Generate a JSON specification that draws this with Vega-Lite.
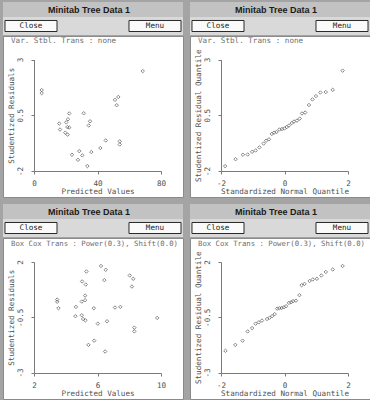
{
  "$schema": "https://vega.github.io/schema/vega-lite/v6.json",
  "padding": {"left": 2, "top": 2, "right": 0, "bottom": 0},
  "background": "#a4a4a4",
  "spacing": 6,
  "datasets": {
    "win": [{"t": "Minitab Tree Data 1"}],
    "btn": [{"b": "Close", "r": "r"}, {"b": "Menu", "r": "r"}],
    "tl": [
      {"x": 4.85, "y": 1.63}, {"x": 4.85, "y": 1.49}, {"x": 68.5, "y": 2.48}, {"x": 51.0, "y": 1.19},
      {"x": 53.1, "y": 1.32}, {"x": 52.1, "y": 0.95}, {"x": 31.3, "y": 0.59}, {"x": 22.2, "y": 0.58},
      {"x": 21.4, "y": 0.32}, {"x": 15.9, "y": 0.13}, {"x": 20.3, "y": 0.18}, {"x": 21.0, "y": -0.03},
      {"x": 22.2, "y": -0.05}, {"x": 16.4, "y": -0.14}, {"x": 19.7, "y": -0.28}, {"x": 21.2, "y": -0.37},
      {"x": 34.5, "y": 0.04}, {"x": 35.3, "y": 0.23}, {"x": 45.2, "y": -0.63}, {"x": 54.0, "y": -0.67},
      {"x": 54.0, "y": -0.81}, {"x": 41.8, "y": -0.97}, {"x": 36.1, "y": -1.15}, {"x": 28.5, "y": -1.11},
      {"x": 23.9, "y": -1.27}, {"x": 30.4, "y": -1.30}, {"x": 27.7, "y": -1.50}, {"x": 33.6, "y": -1.78}
    ],
    "tr": [
      {"x": -1.87, "y": -1.78}, {"x": -1.54, "y": -1.47}, {"x": -1.31, "y": -1.27}, {"x": -1.16, "y": -1.26},
      {"x": -1.02, "y": -1.14}, {"x": -0.91, "y": -1.08}, {"x": -0.79, "y": -0.94}, {"x": -0.66, "y": -0.77},
      {"x": -0.58, "y": -0.64}, {"x": -0.49, "y": -0.58}, {"x": -0.40, "y": -0.34}, {"x": -0.33, "y": -0.28},
      {"x": -0.25, "y": -0.25}, {"x": -0.16, "y": -0.14}, {"x": -0.08, "y": -0.12}, {"x": 0.00, "y": -0.09},
      {"x": 0.07, "y": -0.03}, {"x": 0.14, "y": 0.04}, {"x": 0.23, "y": 0.15}, {"x": 0.30, "y": 0.22},
      {"x": 0.39, "y": 0.26}, {"x": 0.48, "y": 0.35}, {"x": 0.55, "y": 0.58}, {"x": 0.65, "y": 0.62},
      {"x": 0.77, "y": 0.96}, {"x": 0.88, "y": 1.21}, {"x": 0.99, "y": 1.36}, {"x": 1.13, "y": 1.52},
      {"x": 1.30, "y": 1.54}, {"x": 1.52, "y": 1.64}, {"x": 1.83, "y": 2.50}
    ],
    "bl": [
      {"x": 6.22, "y": 1.82}, {"x": 6.52, "y": 1.65}, {"x": 5.30, "y": 1.57}, {"x": 8.03, "y": 1.39},
      {"x": 8.25, "y": 1.24}, {"x": 5.03, "y": 1.12}, {"x": 6.43, "y": 1.18}, {"x": 5.26, "y": 0.98},
      {"x": 8.17, "y": 0.89}, {"x": 5.22, "y": 0.48}, {"x": 3.46, "y": 0.30}, {"x": 3.46, "y": 0.20},
      {"x": 3.54, "y": -0.09}, {"x": 4.64, "y": -0.03}, {"x": 5.01, "y": 0.21}, {"x": 5.22, "y": 0.27},
      {"x": 5.77, "y": -0.09}, {"x": 7.10, "y": -0.06}, {"x": 7.44, "y": -0.03}, {"x": 4.61, "y": -0.45},
      {"x": 5.01, "y": -0.41}, {"x": 5.09, "y": -0.58}, {"x": 5.24, "y": -0.64}, {"x": 6.02, "y": -0.79},
      {"x": 6.60, "y": -0.68}, {"x": 9.76, "y": -0.53}, {"x": 8.32, "y": -0.97}, {"x": 8.32, "y": -1.14},
      {"x": 5.79, "y": -1.56}, {"x": 5.43, "y": -1.75}, {"x": 6.48, "y": -2.05}
    ],
    "br": [
      {"x": -1.86, "y": -2.02}, {"x": -1.55, "y": -1.75}, {"x": -1.32, "y": -1.56}, {"x": -1.16, "y": -1.14},
      {"x": -1.02, "y": -0.99}, {"x": -0.91, "y": -0.79}, {"x": -0.81, "y": -0.73}, {"x": -0.71, "y": -0.65},
      {"x": -0.55, "y": -0.58}, {"x": -0.47, "y": -0.52}, {"x": -0.39, "y": -0.45}, {"x": -0.31, "y": -0.36},
      {"x": -0.23, "y": -0.11}, {"x": -0.16, "y": -0.09}, {"x": -0.09, "y": -0.08}, {"x": -0.02, "y": -0.05},
      {"x": 0.05, "y": 0.00}, {"x": 0.14, "y": 0.15}, {"x": 0.21, "y": 0.18}, {"x": 0.27, "y": 0.23},
      {"x": 0.36, "y": 0.25}, {"x": 0.47, "y": 0.50}, {"x": 0.54, "y": 0.95}, {"x": 0.63, "y": 1.01},
      {"x": 0.79, "y": 1.14}, {"x": 0.89, "y": 1.21}, {"x": 1.02, "y": 1.24}, {"x": 1.16, "y": 1.39},
      {"x": 1.30, "y": 1.55}, {"x": 1.52, "y": 1.66}, {"x": 1.83, "y": 1.82}
    ]
  },
  "config": {
    "axis": {
      "domainColor": "#7a7a7a", "tickColor": "#7a7a7a", "tickSize": 3, "grid": false,
      "labelFont": "DejaVu Sans Mono", "labelFontSize": 7.6, "labelColor": "#505050",
      "titleFont": "DejaVu Sans Mono", "titleFontSize": 7.6, "titleFontWeight": "normal", "titleColor": "#505050",
      "labelFlush": false, "labelOverlap": false, "labelExpr": "'' + datum.value", "titlePadding": 0.5, "titleLimit": 400
    },
    "axisX": {"labelPadding": 5.5},
    "axisY": {"labelPadding": 7, "labelAngle": -90, "labelAlign": "center", "labelBaseline": "bottom"},
    "title": {"font": "DejaVu Sans Mono", "fontSize": 7.6, "fontWeight": "normal", "color": "#6e6e6e", "anchor": "start", "frame": "group", "offset": -9, "dx": 8}
  },
  "vconcat": [
    {
      "spacing": 5,
      "hconcat": [
        {
          "spacing": 0,
          "vconcat": [
            {"width": 180, "height": 15, "view": {"fill": "#c2c2c2", "stroke": null}, "data": {"name": "win"},
             "mark": {"type": "text", "font": "Liberation Sans", "fontWeight": "bold", "fontSize": 9, "color": "#1a1a1a", "dx": -4},
             "encoding": {"text": {"field": "t"}}},
            {"width": 180, "height": 18, "view": {"fill": "#d9d9d9", "stroke": null}, "data": {"name": "btn"},
             "encoding": {
               "x": {"field": "b", "type": "nominal", "scale": {"domain": ["Close", "-", "Menu"], "paddingInner": 0.161, "paddingOuter": 0.032}, "axis": null},
               "y": {"field": "r", "type": "nominal", "scale": {"paddingInner": 0, "paddingOuter": 0.318}, "axis": null}
             },
             "layer": [
               {"mark": {"type": "rect", "fill": "#fafafa", "stroke": "#2a2a2a", "strokeWidth": 1}},
               {"mark": {"type": "text", "font": "DejaVu Sans Mono", "fontSize": 7.6, "color": "#1a1a1a"}, "encoding": {"text": {"field": "b"}}}
             ]},
            {"width": 180, "height": 161, "view": {"fill": "#ffffff", "stroke": "#8a8a8a"}, "data": {"name": "tl"},
             "title": "Var. Stbl. Trans : none",
             "mark": {"type": "point", "shape": "diamond", "filled": false, "size": 12, "stroke": "#555555", "strokeWidth": 1},
             "encoding": {
               "x": {"field": "x", "type": "quantitative", "scale": {"domain": [0, 80], "range": [31, 158], "nice": false, "zero": false},
                     "axis": {"values": [0, 40, 80], "offset": -26, "title": "Predicted Values"}},
               "y": {"field": "y", "type": "quantitative", "scale": {"domain": [-2, 3], "range": [135, 23.5], "nice": false, "zero": false},
                     "axis": {"values": [-2, 0.5, 3], "offset": -31, "title": "Studentized Residuals"}}
             }}
          ]
        },
        {
          "spacing": 0,
          "vconcat": [
            {"width": 180, "height": 15, "view": {"fill": "#c2c2c2", "stroke": null}, "data": {"name": "win"},
             "mark": {"type": "text", "font": "Liberation Sans", "fontWeight": "bold", "fontSize": 9, "color": "#1a1a1a", "dx": -4},
             "encoding": {"text": {"field": "t"}}},
            {"width": 180, "height": 18, "view": {"fill": "#d9d9d9", "stroke": null}, "data": {"name": "btn"},
             "encoding": {
               "x": {"field": "b", "type": "nominal", "scale": {"domain": ["Close", "-", "Menu"], "paddingInner": 0.161, "paddingOuter": 0.032}, "axis": null},
               "y": {"field": "r", "type": "nominal", "scale": {"paddingInner": 0, "paddingOuter": 0.318}, "axis": null}
             },
             "layer": [
               {"mark": {"type": "rect", "fill": "#fafafa", "stroke": "#2a2a2a", "strokeWidth": 1}},
               {"mark": {"type": "text", "font": "DejaVu Sans Mono", "fontSize": 7.6, "color": "#1a1a1a"}, "encoding": {"text": {"field": "b"}}}
             ]},
            {"width": 180, "height": 161, "view": {"fill": "#ffffff", "stroke": "#8a8a8a"}, "data": {"name": "tr"},
             "title": "Var. Stbl. Trans : none",
             "mark": {"type": "point", "shape": "diamond", "filled": false, "size": 12, "stroke": "#555555", "strokeWidth": 1},
             "encoding": {
               "x": {"field": "x", "type": "quantitative", "scale": {"domain": [-2, 2], "range": [31, 158], "nice": false, "zero": false},
                     "axis": {"values": [-2, 0, 2], "offset": -26, "title": "Standardized Normal Quantile"}},
               "y": {"field": "y", "type": "quantitative", "scale": {"domain": [-2, 3], "range": [135, 23.5], "nice": false, "zero": false},
                     "axis": {"values": [-2, 0.5, 3], "offset": -31, "title": "Studentized Residual Quantile"}}
             }}
          ]
        }
      ]
    },
    {
      "spacing": 5,
      "hconcat": [
        {
          "spacing": 0,
          "vconcat": [
            {"width": 180, "height": 15, "view": {"fill": "#c2c2c2", "stroke": null}, "data": {"name": "win"},
             "mark": {"type": "text", "font": "Liberation Sans", "fontWeight": "bold", "fontSize": 9, "color": "#1a1a1a", "dx": -4},
             "encoding": {"text": {"field": "t"}}},
            {"width": 180, "height": 18, "view": {"fill": "#d9d9d9", "stroke": null}, "data": {"name": "btn"},
             "encoding": {
               "x": {"field": "b", "type": "nominal", "scale": {"domain": ["Close", "-", "Menu"], "paddingInner": 0.161, "paddingOuter": 0.032}, "axis": null},
               "y": {"field": "r", "type": "nominal", "scale": {"paddingInner": 0, "paddingOuter": 0.318}, "axis": null}
             },
             "layer": [
               {"mark": {"type": "rect", "fill": "#fafafa", "stroke": "#2a2a2a", "strokeWidth": 1}},
               {"mark": {"type": "text", "font": "DejaVu Sans Mono", "fontSize": 7.6, "color": "#1a1a1a"}, "encoding": {"text": {"field": "b"}}}
             ]},
            {"width": 180, "height": 161, "view": {"fill": "#ffffff", "stroke": "#8a8a8a"}, "data": {"name": "bl"},
             "title": {"text": "Box Cox Trans : Power(0.3), Shift(0.0)", "fontSize": 7.3},
             "mark": {"type": "point", "shape": "diamond", "filled": false, "size": 12, "stroke": "#555555", "strokeWidth": 1},
             "encoding": {
               "x": {"field": "x", "type": "quantitative", "scale": {"domain": [2, 10], "range": [31, 158], "nice": false, "zero": false},
                     "axis": {"values": [2, 6, 10], "offset": -26, "title": "Predicted Values"}},
               "y": {"field": "y", "type": "quantitative", "scale": {"domain": [-3, 2], "range": [134.5, 24], "nice": false, "zero": false},
                     "axis": {"values": [-3, -0.5, 2], "offset": -31, "title": "Studentized Residuals"}}
             }}
          ]
        },
        {
          "spacing": 0,
          "vconcat": [
            {"width": 180, "height": 15, "view": {"fill": "#c2c2c2", "stroke": null}, "data": {"name": "win"},
             "mark": {"type": "text", "font": "Liberation Sans", "fontWeight": "bold", "fontSize": 9, "color": "#1a1a1a", "dx": -4},
             "encoding": {"text": {"field": "t"}}},
            {"width": 180, "height": 18, "view": {"fill": "#d9d9d9", "stroke": null}, "data": {"name": "btn"},
             "encoding": {
               "x": {"field": "b", "type": "nominal", "scale": {"domain": ["Close", "-", "Menu"], "paddingInner": 0.161, "paddingOuter": 0.032}, "axis": null},
               "y": {"field": "r", "type": "nominal", "scale": {"paddingInner": 0, "paddingOuter": 0.318}, "axis": null}
             },
             "layer": [
               {"mark": {"type": "rect", "fill": "#fafafa", "stroke": "#2a2a2a", "strokeWidth": 1}},
               {"mark": {"type": "text", "font": "DejaVu Sans Mono", "fontSize": 7.6, "color": "#1a1a1a"}, "encoding": {"text": {"field": "b"}}}
             ]},
            {"width": 180, "height": 161, "view": {"fill": "#ffffff", "stroke": "#8a8a8a"}, "data": {"name": "br"},
             "title": {"text": "Box Cox Trans : Power(0.3), Shift(0.0)", "fontSize": 7.3},
             "mark": {"type": "point", "shape": "diamond", "filled": false, "size": 12, "stroke": "#555555", "strokeWidth": 1},
             "encoding": {
               "x": {"field": "x", "type": "quantitative", "scale": {"domain": [-2, 2], "range": [31, 158], "nice": false, "zero": false},
                     "axis": {"values": [-2, 0, 2], "offset": -26, "title": "Standardized Normal Quantile"}},
               "y": {"field": "y", "type": "quantitative", "scale": {"domain": [-3, 2], "range": [134.5, 24], "nice": false, "zero": false},
                     "axis": {"values": [-3, -0.5, 2], "offset": -31, "title": "Studentized Residual Quantile"}}
             }}
          ]
        }
      ]
    }
  ]
}
